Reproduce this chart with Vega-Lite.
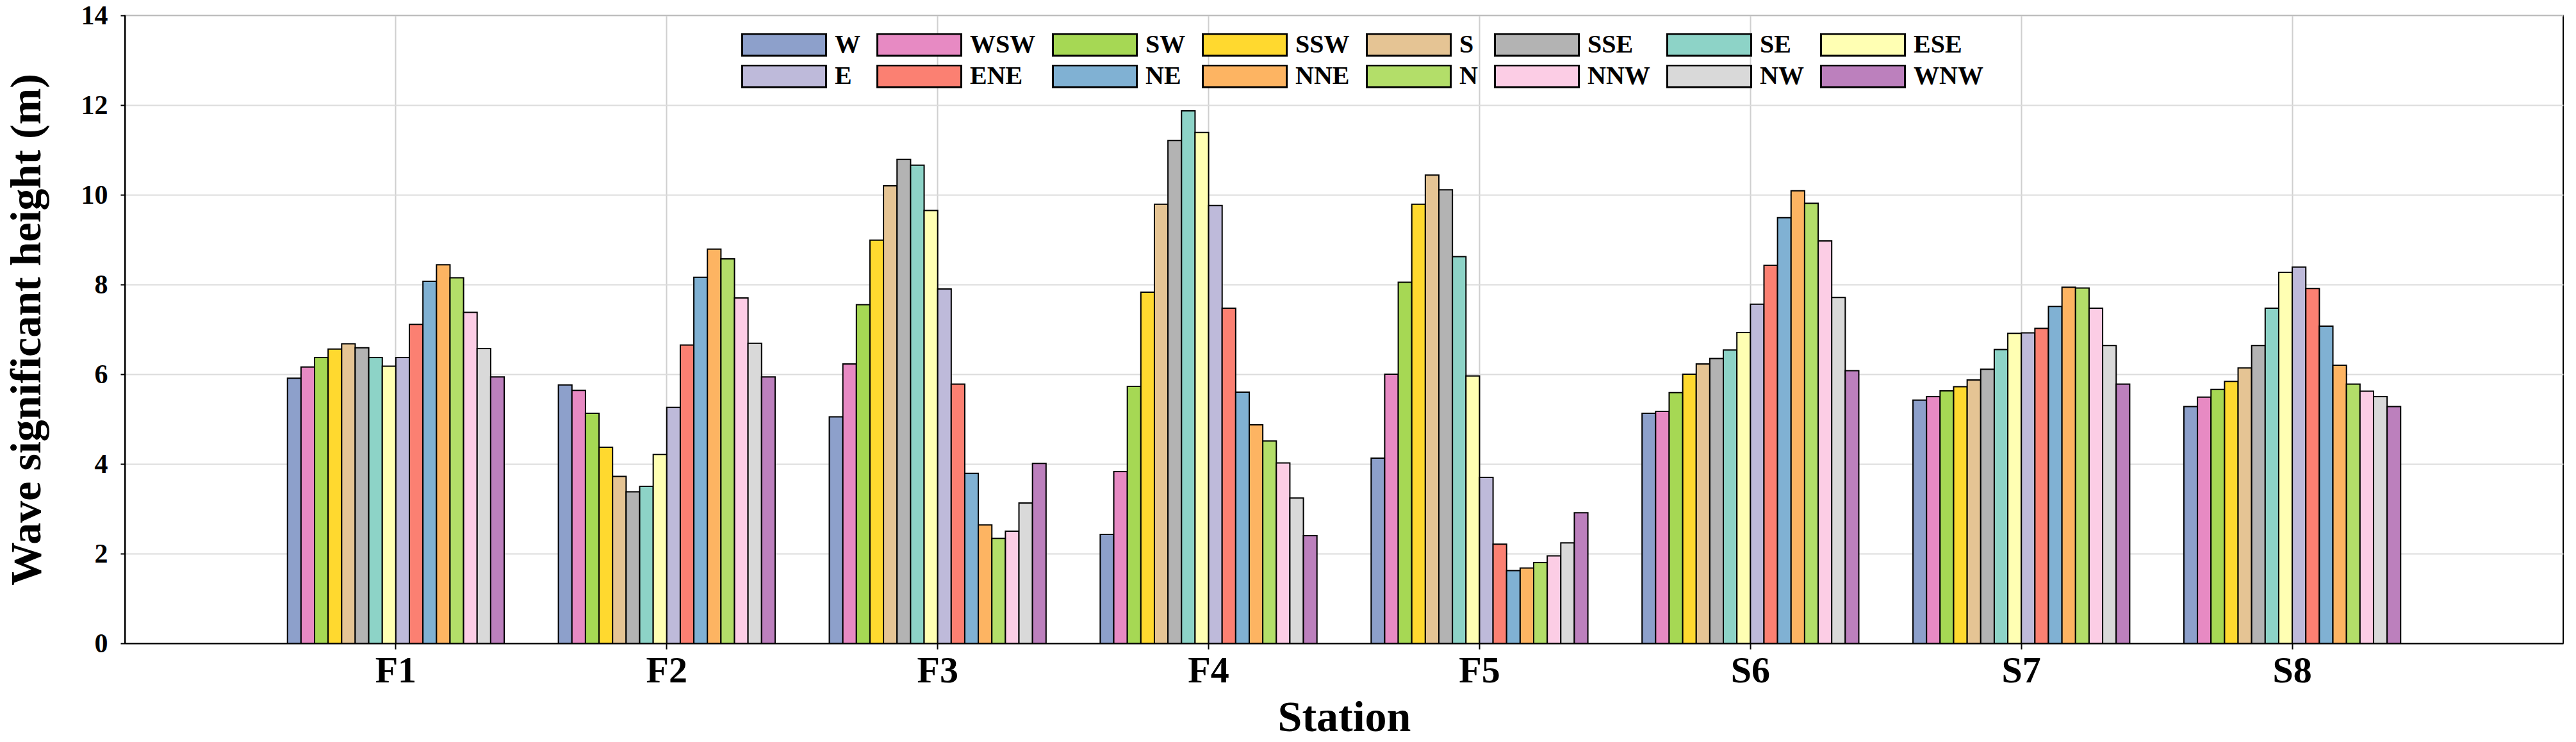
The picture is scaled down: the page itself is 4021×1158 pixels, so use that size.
{
  "$schema": "https://vega.github.io/schema/vega-lite/v6.json",
  "width": 3806,
  "height": 980,
  "autosize": {"type": "none"},
  "padding": {"left": 195, "top": 24, "right": 20, "bottom": 154},
  "background": "white",
  "config": {
    "view": {"stroke": "black", "strokeWidth": 2},
    "font": "Liberation Serif"
  },
  "datasets": {
    "waves": [
      {"station": "F1", "direction": "W", "hs": 5.91},
      {"station": "F1", "direction": "WSW", "hs": 6.16},
      {"station": "F1", "direction": "SW", "hs": 6.37},
      {"station": "F1", "direction": "SSW", "hs": 6.56},
      {"station": "F1", "direction": "S", "hs": 6.68},
      {"station": "F1", "direction": "SSE", "hs": 6.59},
      {"station": "F1", "direction": "SE", "hs": 6.37},
      {"station": "F1", "direction": "ESE", "hs": 6.18},
      {"station": "F1", "direction": "E", "hs": 6.37},
      {"station": "F1", "direction": "ENE", "hs": 7.11},
      {"station": "F1", "direction": "NE", "hs": 8.07},
      {"station": "F1", "direction": "NNE", "hs": 8.44},
      {"station": "F1", "direction": "N", "hs": 8.15},
      {"station": "F1", "direction": "NNW", "hs": 7.38},
      {"station": "F1", "direction": "NW", "hs": 6.57},
      {"station": "F1", "direction": "WNW", "hs": 5.94},
      {"station": "F2", "direction": "W", "hs": 5.76},
      {"station": "F2", "direction": "WSW", "hs": 5.64},
      {"station": "F2", "direction": "SW", "hs": 5.13},
      {"station": "F2", "direction": "SSW", "hs": 4.37},
      {"station": "F2", "direction": "S", "hs": 3.72},
      {"station": "F2", "direction": "SSE", "hs": 3.38},
      {"station": "F2", "direction": "SE", "hs": 3.5},
      {"station": "F2", "direction": "ESE", "hs": 4.21},
      {"station": "F2", "direction": "E", "hs": 5.26},
      {"station": "F2", "direction": "ENE", "hs": 6.65},
      {"station": "F2", "direction": "NE", "hs": 8.16},
      {"station": "F2", "direction": "NNE", "hs": 8.79},
      {"station": "F2", "direction": "N", "hs": 8.57},
      {"station": "F2", "direction": "NNW", "hs": 7.7},
      {"station": "F2", "direction": "NW", "hs": 6.69},
      {"station": "F2", "direction": "WNW", "hs": 5.94},
      {"station": "F3", "direction": "W", "hs": 5.05},
      {"station": "F3", "direction": "WSW", "hs": 6.23},
      {"station": "F3", "direction": "SW", "hs": 7.55},
      {"station": "F3", "direction": "SSW", "hs": 8.99},
      {"station": "F3", "direction": "S", "hs": 10.2},
      {"station": "F3", "direction": "SSE", "hs": 10.79},
      {"station": "F3", "direction": "SE", "hs": 10.66},
      {"station": "F3", "direction": "ESE", "hs": 9.65},
      {"station": "F3", "direction": "E", "hs": 7.9},
      {"station": "F3", "direction": "ENE", "hs": 5.78},
      {"station": "F3", "direction": "NE", "hs": 3.79},
      {"station": "F3", "direction": "NNE", "hs": 2.64},
      {"station": "F3", "direction": "N", "hs": 2.34},
      {"station": "F3", "direction": "NNW", "hs": 2.5},
      {"station": "F3", "direction": "NW", "hs": 3.13},
      {"station": "F3", "direction": "WNW", "hs": 4.01},
      {"station": "F4", "direction": "W", "hs": 2.43},
      {"station": "F4", "direction": "WSW", "hs": 3.83},
      {"station": "F4", "direction": "SW", "hs": 5.73},
      {"station": "F4", "direction": "SSW", "hs": 7.83},
      {"station": "F4", "direction": "S", "hs": 9.79},
      {"station": "F4", "direction": "SSE", "hs": 11.21},
      {"station": "F4", "direction": "SE", "hs": 11.87},
      {"station": "F4", "direction": "ESE", "hs": 11.39},
      {"station": "F4", "direction": "E", "hs": 9.76},
      {"station": "F4", "direction": "ENE", "hs": 7.47},
      {"station": "F4", "direction": "NE", "hs": 5.6},
      {"station": "F4", "direction": "NNE", "hs": 4.87},
      {"station": "F4", "direction": "N", "hs": 4.51},
      {"station": "F4", "direction": "NNW", "hs": 4.02},
      {"station": "F4", "direction": "NW", "hs": 3.24},
      {"station": "F4", "direction": "WNW", "hs": 2.4},
      {"station": "F5", "direction": "W", "hs": 4.13},
      {"station": "F5", "direction": "WSW", "hs": 6.0},
      {"station": "F5", "direction": "SW", "hs": 8.05},
      {"station": "F5", "direction": "SSW", "hs": 9.79},
      {"station": "F5", "direction": "S", "hs": 10.44},
      {"station": "F5", "direction": "SSE", "hs": 10.11},
      {"station": "F5", "direction": "SE", "hs": 8.62},
      {"station": "F5", "direction": "ESE", "hs": 5.96},
      {"station": "F5", "direction": "E", "hs": 3.7},
      {"station": "F5", "direction": "ENE", "hs": 2.21},
      {"station": "F5", "direction": "NE", "hs": 1.62},
      {"station": "F5", "direction": "NNE", "hs": 1.68},
      {"station": "F5", "direction": "N", "hs": 1.8},
      {"station": "F5", "direction": "NNW", "hs": 1.95},
      {"station": "F5", "direction": "NW", "hs": 2.24},
      {"station": "F5", "direction": "WNW", "hs": 2.91},
      {"station": "S6", "direction": "W", "hs": 5.13},
      {"station": "S6", "direction": "WSW", "hs": 5.17},
      {"station": "S6", "direction": "SW", "hs": 5.59},
      {"station": "S6", "direction": "SSW", "hs": 6.0},
      {"station": "S6", "direction": "S", "hs": 6.23},
      {"station": "S6", "direction": "SSE", "hs": 6.35},
      {"station": "S6", "direction": "SE", "hs": 6.54},
      {"station": "S6", "direction": "ESE", "hs": 6.93},
      {"station": "S6", "direction": "E", "hs": 7.56},
      {"station": "S6", "direction": "ENE", "hs": 8.43},
      {"station": "S6", "direction": "NE", "hs": 9.49},
      {"station": "S6", "direction": "NNE", "hs": 10.09},
      {"station": "S6", "direction": "N", "hs": 9.81},
      {"station": "S6", "direction": "NNW", "hs": 8.97},
      {"station": "S6", "direction": "NW", "hs": 7.71},
      {"station": "S6", "direction": "WNW", "hs": 6.08},
      {"station": "S7", "direction": "W", "hs": 5.42},
      {"station": "S7", "direction": "WSW", "hs": 5.5},
      {"station": "S7", "direction": "SW", "hs": 5.63},
      {"station": "S7", "direction": "SSW", "hs": 5.72},
      {"station": "S7", "direction": "S", "hs": 5.87},
      {"station": "S7", "direction": "SSE", "hs": 6.11},
      {"station": "S7", "direction": "SE", "hs": 6.55},
      {"station": "S7", "direction": "ESE", "hs": 6.91},
      {"station": "S7", "direction": "E", "hs": 6.92},
      {"station": "S7", "direction": "ENE", "hs": 7.02},
      {"station": "S7", "direction": "NE", "hs": 7.51},
      {"station": "S7", "direction": "NNE", "hs": 7.94},
      {"station": "S7", "direction": "N", "hs": 7.92},
      {"station": "S7", "direction": "NNW", "hs": 7.47},
      {"station": "S7", "direction": "NW", "hs": 6.64},
      {"station": "S7", "direction": "WNW", "hs": 5.78},
      {"station": "S8", "direction": "W", "hs": 5.28},
      {"station": "S8", "direction": "WSW", "hs": 5.49},
      {"station": "S8", "direction": "SW", "hs": 5.66},
      {"station": "S8", "direction": "SSW", "hs": 5.84},
      {"station": "S8", "direction": "S", "hs": 6.14},
      {"station": "S8", "direction": "SSE", "hs": 6.64},
      {"station": "S8", "direction": "SE", "hs": 7.47},
      {"station": "S8", "direction": "ESE", "hs": 8.27},
      {"station": "S8", "direction": "E", "hs": 8.39},
      {"station": "S8", "direction": "ENE", "hs": 7.91},
      {"station": "S8", "direction": "NE", "hs": 7.07},
      {"station": "S8", "direction": "NNE", "hs": 6.2},
      {"station": "S8", "direction": "N", "hs": 5.78},
      {"station": "S8", "direction": "NNW", "hs": 5.62},
      {"station": "S8", "direction": "NW", "hs": 5.5},
      {"station": "S8", "direction": "WNW", "hs": 5.28}
    ]
  },
  "data": {"name": "waves"},
  "mark": {"type": "bar", "stroke": "black", "strokeWidth": 2},
  "encoding": {
    "x": {
      "field": "station",
      "type": "nominal",
      "sort": ["F1", "F2", "F3", "F4", "F5", "S6", "S7", "S8"],
      "scale": {"paddingInner": 0.2, "paddingOuter": 0.6},
      "axis": {
        "title": "Station",
        "labelAngle": 0,
        "labelFont": "Liberation Serif",
        "labelFontWeight": "bold",
        "labelFontSize": 58,
        "labelColor": "black",
        "labelPadding": 5,
        "tickSize": 9,
        "tickColor": "black",
        "tickWidth": 2,
        "domainColor": "black",
        "domainWidth": 2,
        "grid": true,
        "gridColor": "#cfcfcf",
        "gridWidth": 2,
        "titleFont": "Liberation Serif",
        "titleFontSize": 68,
        "titleFontWeight": "bold",
        "titleColor": "black",
        "titlePadding": 10
      }
    },
    "xOffset": {
      "field": "direction",
      "type": "nominal",
      "sort": ["W", "WSW", "SW", "SSW", "S", "SSE", "SE", "ESE", "E", "ENE", "NE", "NNE", "N", "NNW", "NW", "WNW"],
      "scale": {"paddingInner": 0, "paddingOuter": 0}
    },
    "y": {
      "field": "hs",
      "type": "quantitative",
      "scale": {"domain": [0, 14], "nice": false},
      "axis": {
        "values": [0, 2, 4, 6, 8, 10, 12, 14],
        "title": "Wave significant height (m)",
        "labelFont": "Liberation Serif",
        "labelFontWeight": "bold",
        "labelFontSize": 42,
        "labelColor": "black",
        "labelPadding": 20,
        "tickSize": 7,
        "tickColor": "black",
        "tickWidth": 2,
        "domainColor": "black",
        "domainWidth": 2,
        "grid": true,
        "gridColor": "#dcdcdc",
        "gridWidth": 2,
        "titleFont": "Liberation Serif",
        "titleFontSize": 68,
        "titleFontWeight": "bold",
        "titleColor": "black",
        "titlePadding": 50
      }
    },
    "color": {
      "field": "direction",
      "type": "nominal",
      "scale": {
        "domain": ["W", "WSW", "SW", "SSW", "S", "SSE", "SE", "ESE", "E", "ENE", "NE", "NNE", "N", "NNW", "NW", "WNW"],
        "range": ["#8DA0CB", "#E78AC3", "#A6D854", "#FFD92F", "#E5C494", "#B3B3B3", "#8DD3C7", "#FFFFB3", "#BEBADA", "#FB8072", "#80B1D3", "#FDB462", "#B3DE69", "#FCCDE5", "#D9D9D9", "#BC80BD"]
      },
      "legend": {
        "title": null,
        "orient": "none",
        "legendX": 962,
        "legendY": 28,
        "direction": "horizontal",
        "columns": 8,
        "symbolType": "M-1,-0.26H1V0.26H-1Z",
        "symbolSize": 17161,
        "symbolStrokeColor": "black",
        "symbolStrokeWidth": 3,
        "symbolOpacity": 1,
        "clipHeight": 36,
        "labelFont": "Liberation Serif",
        "labelFontSize": 40,
        "labelFontWeight": "bold",
        "labelColor": "black",
        "labelOffset": 12,
        "labelLimit": 400,
        "columnPadding": 25,
        "rowPadding": 9
      }
    }
  }
}
